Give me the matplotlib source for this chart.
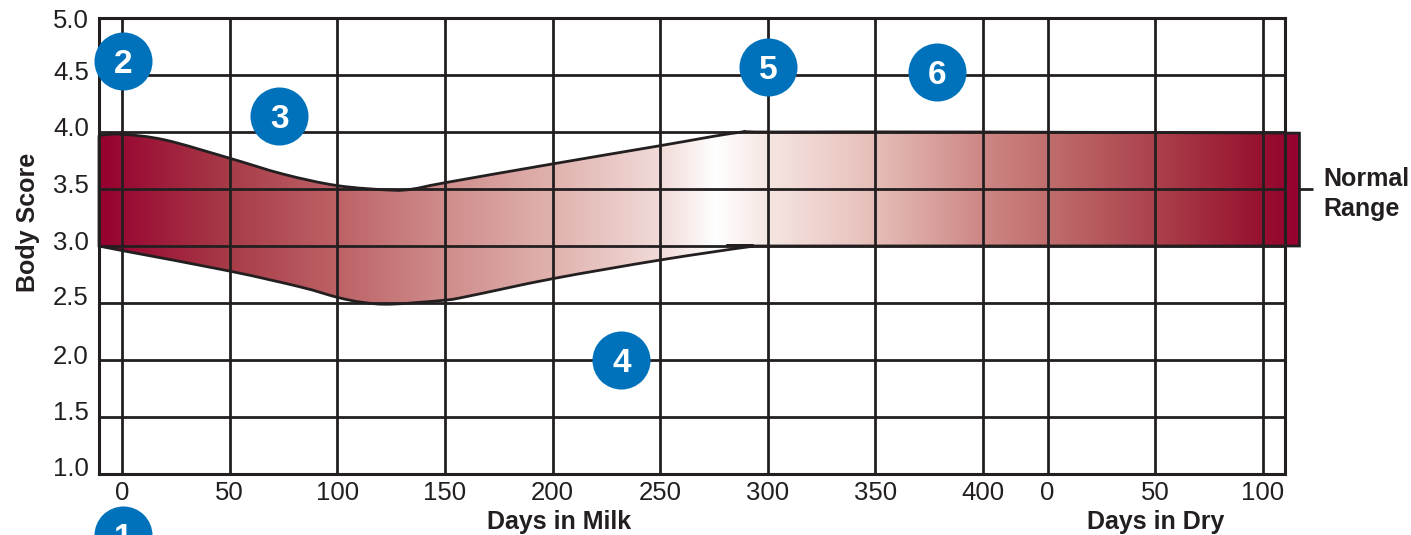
import numpy as np
import matplotlib
matplotlib.use("Agg")
import matplotlib.pyplot as plt
from matplotlib.path import Path
from matplotlib.patches import PathPatch
from matplotlib.colors import LinearSegmentedColormap

plt.rcParams['font.family'] = ['Liberation Sans', 'DejaVu Sans']
INK = '#231f20'

# data (x axis: continuous days; dry period starts at day 430 of the axis)
upper_x = [-10.7, 0, 20, 50, 75, 100, 125, 135, 150, 200, 250, 286, 300, 400, 547]
upper_y = [3.97, 3.98, 3.93, 3.77, 3.63, 3.53, 3.49, 3.50, 3.555, 3.72, 3.88, 3.995, 4.0, 4.0, 3.99]
lower_x = [-10.7, 0, 50, 83, 100, 112, 125, 150, 161, 200, 250, 292, 300, 547]
lower_y = [3.0, 2.96, 2.78, 2.64, 2.55, 2.505, 2.49, 2.525, 2.56, 2.713, 2.877, 2.995, 3.0, 3.0]
x_ticks = [0, 50, 100, 150, 200, 250, 300, 350, 400, 430, 480, 530]
x_labels = ['0', '50', '100', '150', '200', '250', '300', '350', '400', '0', '50', '100']
y_ticks = [1.0, 1.5, 2.0, 2.5, 3.0, 3.5, 4.0, 4.5, 5.0]
y_label_lift = [8, 7, 6, 8, 6, 6, 6, 5, 0]
badge_x = [0.5, 0.5, 73, 232, 300, 378.5]
badge_y = [0.465, 4.62, 4.14, 2.0, 4.57, 4.53]
badge_labels = ['1', '2', '3', '4', '5', '6']

W, H = 1411, 535
fig = plt.figure(figsize=(W / 100, H / 100), dpi=100, facecolor='white')
ax = fig.add_axes([99 / W, 1 - 474 / H, (1285 - 99) / W, (474 - 18) / H])


def spline(xs, ys):
    """Catmull-Rom through the read points, as cubic Bezier path segments."""
    p = np.column_stack([xs, ys])
    verts, codes = [p[0]], [Path.MOVETO]
    for i in range(len(p) - 1):
        p0 = p[max(i - 1, 0)]
        p1, p2 = p[i], p[i + 1]
        p3 = p[min(i + 2, len(p) - 1)]
        verts += [p1 + (p2 - p0) / 6, p2 - (p3 - p1) / 6, p2]
        codes += [Path.CURVE4] * 3
    return np.array(verts), codes


uv, uc = spline(upper_x, upper_y)
lv, lc = spline(lower_x[::-1], lower_y[::-1])
outline = Path(np.vstack([uv, lv, uv[:1]]),
               uc + [Path.LINETO] + lc[1:] + [Path.LINETO])
patch = PathPatch(outline, facecolor='none', edgecolor=INK, lw=2.0, zorder=4,
                  clip_on=False, joinstyle='miter')

stops = [(-10.7, '#96002f'), (50, '#a83c48'), (100, '#bd6266'), (150, '#cf8d8b'),
         (200, '#e0b2ae'), (250, '#f1dbd8'), (276, '#ffffff'), (300, '#f5e6e2'),
         (350, '#e6bdb8'), (400, '#cd8784'), (430, '#c06e6e'), (480, '#ab414b'),
         (530, '#96102f'), (547, '#96002f')]
lo, hi = stops[0][0], stops[-1][0]
cmap = LinearSegmentedColormap.from_list(
    'band', [((x - lo) / (hi - lo), c) for x, c in stops], N=1024)
img = ax.imshow(np.linspace(0, 1, 1024)[None, :], cmap=cmap, aspect='auto',
                extent=[lo, hi, 2.4, 4.1], zorder=1)
ax.set_xlim(-10.7, 540.3)
ax.set_ylim(1.0, 5.0)
clip = PathPatch(outline, transform=ax.transData, facecolor='none', edgecolor='none')
ax.add_patch(clip)
img.set_clip_path(clip)
img.set_clip_box(fig.bbox)
ax.add_patch(patch)

ax.set_xticks(x_ticks)
ax.set_xticklabels(x_labels)
ax.set_yticks([])
ax.grid(True, axis='x', color=INK, lw=2.0, zorder=3)
for v, lift in zip(y_ticks, y_label_lift):
    ax.axhline(v, color=INK, lw=2.0, zorder=3)
    ax.annotate(f'{v:.1f}', xy=(0, v), xycoords=ax.get_yaxis_transform(),
                xytext=(-7.3, (lift - 2.7) * 0.72), textcoords='offset points',
                ha='right', va='center', fontsize=18.5, color=INK, annotation_clip=False)
ax.set_axisbelow(False)
ax.tick_params(length=0, labelsize=18.5, labelcolor=INK, pad=5)
for s in ax.spines.values():
    s.set_color(INK)
    s.set_linewidth(2.2)
    s.set_zorder(3.5)

fig.text(28 / W, 1 - 222 / H, 'Body Score', rotation=90, ha='center', va='center',
         fontsize=18, fontweight='bold', color=INK)
fig.text(559 / W, 1 - 522 / H, 'Days in Milk', ha='center', va='center',
         fontsize=18, fontweight='bold', color=INK)
fig.text(1156 / W, 1 - 522 / H, 'Days in Dry', ha='center', va='center',
         fontsize=18, fontweight='bold', color=INK)
fig.text(1323 / W, 1 - 179 / H, 'Normal', ha='left', va='center',
         fontsize=18, fontweight='bold', color=INK)
fig.text(1323 / W, 1 - 209 / H, 'Range', ha='left', va='center',
         fontsize=18, fontweight='bold', color=INK)
ax.plot([547, 553.5], [3.5, 3.5], color=INK, lw=2.0, clip_on=False, zorder=4,
        solid_capstyle='butt')

ax.scatter(badge_x, badge_y, s=1746, color='#0072bc', linewidths=0, clip_on=False, zorder=6)
for x, y, t in zip(badge_x, badge_y, badge_labels):
    ax.text(x, y, t, color='white', fontsize=24, fontweight='bold', ha='center',
            va='center_baseline', zorder=7, clip_on=False)

fig.savefig('out.png', dpi=100)
